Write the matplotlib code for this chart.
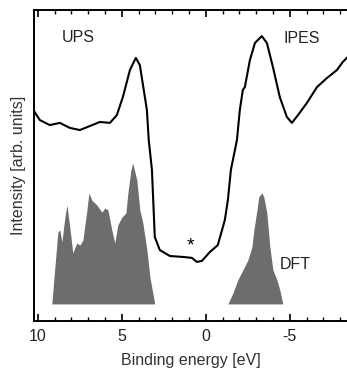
import numpy as np
import matplotlib
matplotlib.use("Agg")
import matplotlib.pyplot as plt
from matplotlib.ticker import MultipleLocator

plt.rcParams['font.family'] = ['Liberation Sans', 'DejaVu Sans']
plt.rcParams['axes.unicode_minus'] = False

# UPS / IPES measured spectrum (binding energy, intensity)
spec_e = [10.24, 9.88, 9.29, 8.69, 8.10, 7.50, 6.90, 6.31, 5.71, 5.30, 4.94,
          4.52, 4.17, 3.93, 3.63, 3.51, 3.40, 3.21, 3.04, 2.74, 2.14, 1.37,
          0.83, 0.54, 0.24, -0.24, -0.71, -1.13, -1.31, -1.49, -1.85, -2.02,
          -2.20, -2.32, -2.62, -2.92, -3.33, -3.63, -3.99, -4.40, -4.82,
          -5.12, -5.48, -6.01, -6.61, -7.20, -7.80, -8.15, -8.39]
spec_i = [0.676, 0.646, 0.630, 0.637, 0.621, 0.614, 0.627, 0.640, 0.637,
          0.662, 0.720, 0.807, 0.846, 0.823, 0.720, 0.678, 0.582, 0.486,
          0.270, 0.228, 0.209, 0.206, 0.203, 0.190, 0.193, 0.222, 0.244,
          0.325, 0.389, 0.486, 0.582, 0.678, 0.743, 0.752, 0.839, 0.894,
          0.916, 0.894, 0.817, 0.720, 0.656, 0.637, 0.662, 0.701, 0.752,
          0.781, 0.807, 0.833, 0.846]

# DFT density of states, occupied part
dos_v_e = [9.17, 8.81, 8.69, 8.57, 8.39, 8.27, 8.10, 7.92, 7.68, 7.50, 7.32,
           7.08, 6.96, 6.79, 6.49, 6.19, 6.01, 5.83, 5.60, 5.42, 5.24, 5.00,
           4.76, 4.64, 4.46, 4.35, 4.11, 3.93, 3.75, 3.51, 3.33, 3.04]
dos_v_i = [0.055, 0.286, 0.293, 0.254, 0.334, 0.373, 0.302, 0.219, 0.251,
           0.244, 0.260, 0.357, 0.412, 0.389, 0.373, 0.350, 0.363, 0.357,
           0.293, 0.251, 0.309, 0.334, 0.347, 0.412, 0.486, 0.508, 0.453,
           0.357, 0.315, 0.228, 0.141, 0.055]

# DFT density of states, unoccupied part
dos_c_e = [-1.31, -1.61, -1.90, -2.20, -2.50, -2.74, -2.86, -3.04, -3.15,
           -3.33, -3.45, -3.63, -3.81, -3.99, -4.23, -4.40, -4.58]
dos_c_i = [0.055, 0.090, 0.132, 0.164, 0.196, 0.238, 0.293, 0.357, 0.399,
           0.412, 0.399, 0.347, 0.238, 0.164, 0.132, 0.100, 0.055]

fig = plt.figure(figsize=(3.47, 3.70), dpi=100)
ax = fig.add_axes([0.0994, 0.1324, 0.9006, 0.8406])

ax.fill_between(dos_v_e, 0.055, dos_v_i, color='#6d6d6d', lw=0)
ax.fill_between(dos_c_e, 0.055, dos_c_i, color='#6d6d6d', lw=0)
ax.plot(spec_e, spec_i, color='black', lw=1.5)

ax.set_xlim(10.2, -8.4)
ax.set_ylim(0, 1)
ax.xaxis.set_minor_locator(MultipleLocator(1))
ax.tick_params(axis='x', which='both', direction='in', top=True, labelsize=11.5, pad=6)
ax.tick_params(axis='x', which='major', length=5, width=1.2)
ax.tick_params(axis='x', which='minor', length=3, width=1)
ax.set_yticks([])
ax.spines['right'].set_visible(False)
for s in ['left', 'top', 'bottom']:
    ax.spines[s].set_linewidth(1.4)
ax.set_xticks([10, 5, 0, -5])
ax.set_xticklabels(['10', '5', '0', '-5'], color='#222222')

ax.set_xlabel('Binding energy [eV]', fontsize=11.5, color='#333333', labelpad=6)
ax.set_ylabel('Intensity [arb. units]', fontsize=11.5, color='#333333', labelpad=6)

ax.text(7.6, 0.91, 'UPS', fontsize=11.5, ha='center', va='center', color='#222222')
ax.text(-5.7, 0.907, 'IPES', fontsize=11.5, ha='center', va='center', color='#222222')
ax.text(-5.3, 0.183, 'DFT', fontsize=11.5, ha='center', va='center', color='#222222')
ax.text(0.9, 0.24, '*', fontsize=14, ha='center', va='center', color='black')

fig.savefig('out.png', dpi=100)
